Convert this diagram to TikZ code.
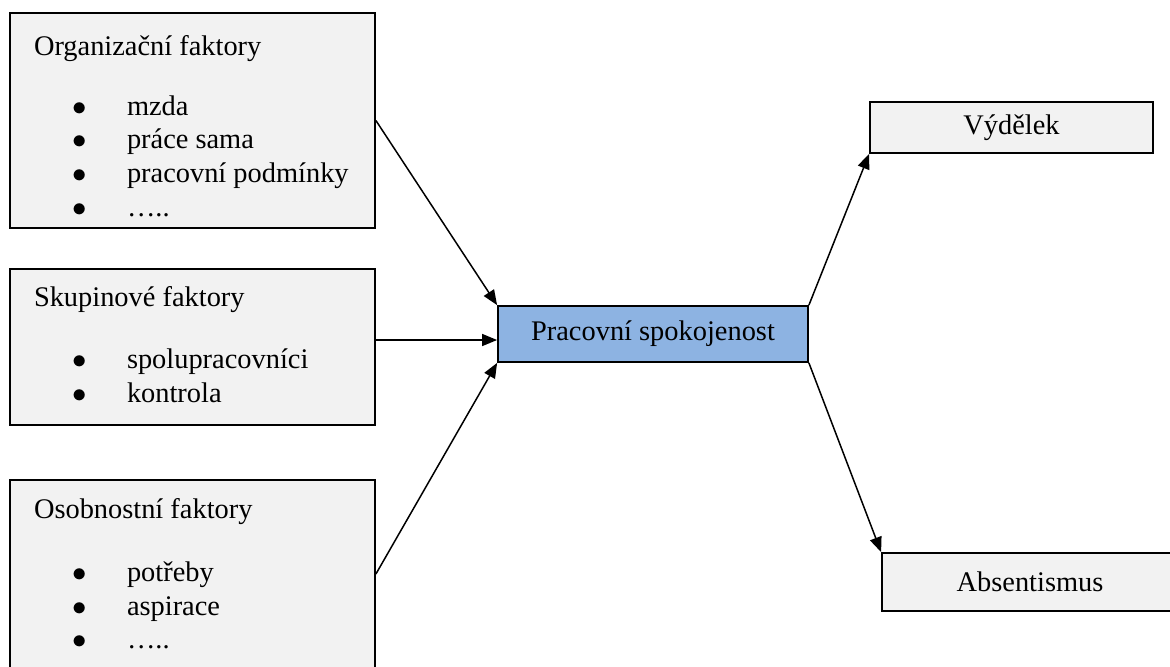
\documentclass[tikz,border=0pt]{standalone}
\usepackage{fontspec}
\setmainfont{Liberation Serif}
\usepackage{xcolor}
\usepackage{tikz}
\usetikzlibrary{arrows.meta, positioning, calc}
\definecolor{boxgray}{HTML}{F2F2F2}
\definecolor{boxblue}{HTML}{8DB3E2}
\newcommand{\bitem}[1]{\makebox[46.5pt][l]{\hspace*{19pt}$\bullet$}#1}
\tikzset{
  factor/.style={rectangle, draw=black, line width=0.9pt, fill=boxgray,
                 font=\fontsize{14.2}{16.8}\selectfont,
                 minimum width=182.5pt, minimum height=#1,
                 text width=158.5pt, inner xsep=12pt, inner ysep=0pt,
                 align=flush left,
                 execute at begin node={\spaceskip=0pt\xspaceskip=0pt}},
  result/.style={rectangle, draw=black, line width=0.9pt, fill=boxgray,
                 font=\fontsize{14.2}{16.8}\selectfont, align=center},
  arr/.style={-{Triangle[length=7.5pt,width=6pt]}, line width=0.75pt, black},
}
\begin{document}
\begin{tikzpicture}[x=0.5pt, y=-0.5pt]
  \useasboundingbox (0,0) rectangle (1170,666);
  %% Faktory vlevo
  \node[factor=107.5pt] (org) at (192.5,120.5)
    {\rule{0pt}{15.5pt}Organizační faktory\\[13pt]
     \bitem{mzda}\\ \bitem{práce sama}\\ \bitem{pracovní podmínky}\\ \bitem{…..}};
  \node[factor=78pt] (skup) at (192.5,347)
    {Skupinové faktory\\[14pt]
     \bitem{spolupracovníci}\\ \bitem{kontrola}\rule[-2.5pt]{0pt}{0pt}};
  \node[factor=94pt] (osob) at (192.5,574)
    {Osobnostní faktory\\[14.5pt]
     \bitem{potřeby}\\ \bitem{aspirace}\\ \bitem{…..}};
  %% Spokojenost
  \node[result, fill=boxblue, minimum width=155pt, minimum height=28pt]
    (spok) at (653,334) {Pracovní spokojenost};
  %% Dusledky
  \node[result, minimum width=141.5pt, minimum height=25.5pt]
    (vyd) at (1011.5,127.5) {Výdělek};
  \node[result, minimum width=148pt, minimum height=29pt]
    (abs) at (1030,582) {Absentismus};
  \draw[arr] (org.east) -- (spok.north west);
  \draw[arr] ([yshift=3.5pt]skup.east) -- ([yshift=3.5pt]skup.east -| spok.west);
  \draw[arr] (osob.east) -- (spok.south west);
  \draw[arr] (spok.north east) -- (vyd.south west);
  \draw[arr] (spok.south east) -- (abs.north west);
\end{tikzpicture}
\end{document}
